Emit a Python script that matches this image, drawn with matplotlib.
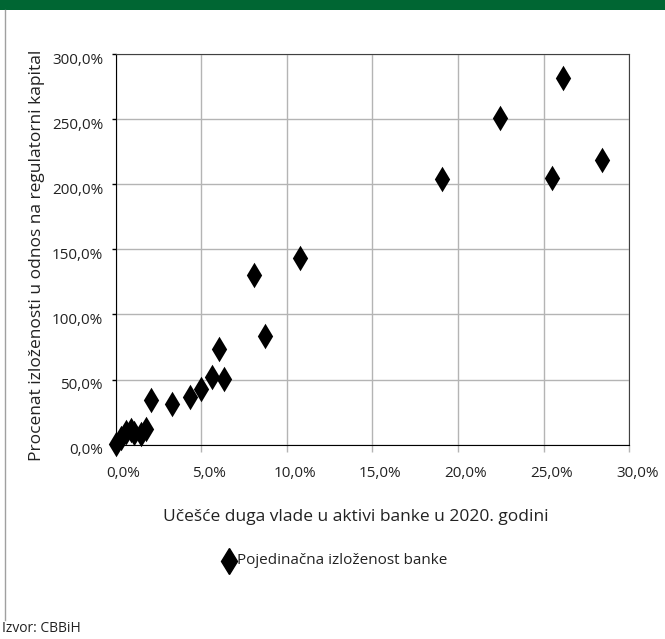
import matplotlib
matplotlib.use('Agg')
import matplotlib.pyplot as plt
import matplotlib.transforms as mtransforms
from matplotlib.lines import Line2D

plt.rcParams['font.family'] = ['Open Sans', 'DejaVu Sans']

# share of government debt in bank assets (%), exposure vs regulatory capital (%)
debt_share = [0.0, 0.3, 0.6, 0.9, 1.1, 1.5, 1.8, 2.1, 3.3, 4.35, 4.98, 5.66,
              6.06, 6.34, 8.09, 8.73, 10.78, 19.05, 22.44, 25.48, 26.1, 28.4]
exposure = [0.5, 5.5, 9.5, 11.5, 9.0, 8.5, 12.0, 34.3, 31.0, 36.4, 42.5, 52.0,
            73.7, 50.7, 130.3, 83.5, 143.1, 203.8, 250.9, 204.8, 281.6, 218.6]

x_ticks = [0, 5, 10, 15, 20, 25, 30]
y_ticks = [0, 50, 100, 150, 200, 250, 300]

xlabel = 'Učešće duga vlade u aktivi banke u 2020. godini'
ylabel = 'Procenat izloženosti u odnos na regulatorni kapital'
legend_label = 'Pojedinačna izloženost banke'
source = 'Izvor: CBBiH'


def pct(v):
    return f'{v:.1f}%'.replace('.', ',')


fig = plt.figure(figsize=(6.65, 6.39), dpi=100)

# green header band and left border line
fig.add_artist(plt.Rectangle((0, 1 - 10 / 639), 1, 10 / 639, transform=fig.transFigure,
                             color='#006633', lw=0))
fig.add_artist(Line2D([5.5 / 665, 5.5 / 665], [1 - 620 / 639, 1 - 10 / 639],
                      transform=fig.transFigure, color='#a0a0a0', lw=1))

ax = fig.add_axes([115.5 / 665, 194.3 / 639, 513.8 / 665, 390.7 / 639])
ax.scatter(debt_share, exposure, marker='d', s=13 ** 2, color='black', zorder=3,
           clip_on=False, linewidths=0)

ax.set_xlim(0, 30)
ax.set_ylim(0, 300)
ax.set_xticks(x_ticks)
ax.set_yticks(y_ticks)
ax.set_xticklabels([pct(v) for v in x_ticks])
ax.set_yticklabels([pct(v) for v in y_ticks])
ax.grid(True, color='#b4b4b4', lw=1)
ax.set_axisbelow(True)

ax.tick_params(axis='x', direction='out', length=5, width=1, color='#b4b4b4',
               labelsize=11, pad=10, labelcolor='#222222')
ax.tick_params(axis='y', direction='out', length=3, width=1, color='black',
               labelsize=11, pad=6, labelcolor='#222222')

dx = mtransforms.ScaledTranslation(8 / 100, 0, fig.dpi_scale_trans)
for lab in ax.get_xticklabels():
    lab.set_transform(lab.get_transform() + dx)
dy = mtransforms.ScaledTranslation(0, -4 / 100, fig.dpi_scale_trans)
for lab in ax.get_yticklabels():
    lab.set_transform(lab.get_transform() + dy)

for side in ['left', 'bottom']:
    ax.spines[side].set_color('black')
for side in ['top', 'right']:
    ax.spines[side].set_color('#404040')

fig.text(356 / 665, 1 - 517 / 639, xlabel, ha='center', va='center', fontsize=12.5,
         color='#222222')
fig.text(37 / 665, 1 - 255 / 639, ylabel, ha='center', va='center', rotation=90,
         fontsize=12.5, color='#222222')

# legend
fig.add_artist(Line2D([229 / 665], [1 - 561 / 639], marker='d', markersize=13,
                      color='black', transform=fig.transFigure, lw=0))
fig.text(237 / 665, 1 - 561 / 639, legend_label, ha='left', va='center', fontsize=11,
         color='#222222')

fig.text(2 / 665, 1 - 629 / 639, source, ha='left', va='center', fontsize=10,
         color='#222222')

fig.savefig('out.png', dpi=100)
